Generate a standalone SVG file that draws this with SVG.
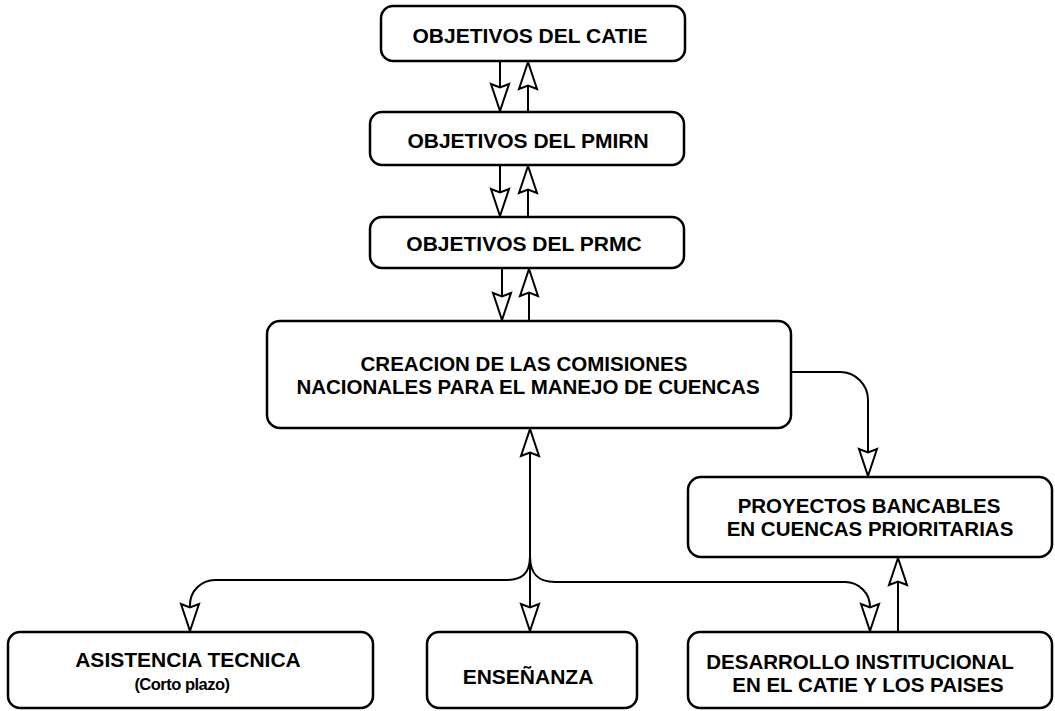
<svg xmlns="http://www.w3.org/2000/svg" width="1055" height="711" viewBox="0 0 1055 711">
<style>
.box{fill:#fff;stroke:#000;stroke-width:2.5}
.t{font-family:"Liberation Sans",Arial,sans-serif;font-weight:bold;font-size:21px;fill:#000;text-anchor:middle}
.m{font-size:20.5px}
.s{font-size:16.5px;letter-spacing:-0.5px}
.c{fill:none;stroke:#000;stroke-width:2}
</style>
<defs>
<marker id="ah" markerUnits="userSpaceOnUse" viewBox="-30 -12 32 24" refX="0" refY="0" markerWidth="32" markerHeight="24" orient="auto" overflow="visible">
<path d="M0,0 L-27,-9 L-23.5,0 L-27,9 Z" fill="#fff" stroke="#000" stroke-width="2" stroke-linejoin="miter"/>
</marker>
</defs>
<rect width="1055" height="711" fill="#fff"/>
<g id="connectors">
<path class="c" d="M500,61 V111" marker-end="url(#ah)"/>
<path class="c" d="M528,112 V62" marker-end="url(#ah)"/>
<path class="c" d="M500,165 V216" marker-end="url(#ah)"/>
<path class="c" d="M528,217 V166" marker-end="url(#ah)"/>
<path class="c" d="M502,268 V320" marker-end="url(#ah)"/>
<path class="c" d="M529,321 V269" marker-end="url(#ah)"/>
<path class="c" d="M791,372 H840 A28,28 0 0 1 868,400 V476" marker-end="url(#ah)"/>
<path class="c" d="M530,562 V429" marker-end="url(#ah)"/>
<path class="c" d="M530,560 V631" marker-end="url(#ah)"/>
<path class="c" d="M530,556 C530,574 522,580 505,580 H215 A25,25 0 0 0 190,605 V631" marker-end="url(#ah)"/>
<path class="c" d="M530,556 C530,574 538,582 555,582 H845 A25,25 0 0 1 870,607 V631" marker-end="url(#ah)"/>
<path class="c" d="M898,632 V558" marker-end="url(#ah)"/>
</g>
<g id="n1">
<rect class="box" x="381" y="6" width="304" height="55" rx="12"/>
<text class="t" x="530" y="42.5">OBJETIVOS DEL CATIE</text>
</g>
<g id="n2">
<rect class="box" x="370" y="112" width="314" height="53" rx="12"/>
<text class="t" x="528" y="147.5">OBJETIVOS DEL PMIRN</text>
</g>
<g id="n3">
<rect class="box" x="370" y="217" width="314" height="51" rx="12"/>
<text class="t" x="524" y="250.5">OBJETIVOS DEL PRMC</text>
</g>
<g id="n4">
<rect class="box" x="267" y="321" width="524" height="107" rx="13"/>
<text class="t m" x="524" y="371">CREACION DE LAS COMISIONES</text>
<text class="t m" x="528" y="394">NACIONALES PARA EL MANEJO DE CUENCAS</text>
</g>
<g id="n5">
<rect class="box" x="688" y="477" width="364" height="80" rx="13"/>
<text class="t m" x="869" y="513">PROYECTOS BANCABLES</text>
<text class="t m" x="870" y="536">EN CUENCAS PRIORITARIAS</text>
</g>
<g id="n6">
<rect class="box" x="8" y="632" width="365" height="76" rx="12"/>
<text class="t" x="188" y="667">ASISTENCIA TECNICA</text>
<text class="t s" x="182" y="690">(Corto plazo)</text>
</g>
<g id="n7">
<rect class="box" x="427" y="632" width="210" height="76" rx="12"/>
<text class="t" x="528" y="684">ENSEÑANZA</text>
</g>
<g id="n8">
<rect class="box" x="688" y="632" width="364" height="76" rx="12"/>
<text class="t m" x="860" y="669">DESARROLLO INSTITUCIONAL</text>
<text class="t m" x="868" y="692">EN EL CATIE Y LOS PAISES</text>
</g>
</svg>
